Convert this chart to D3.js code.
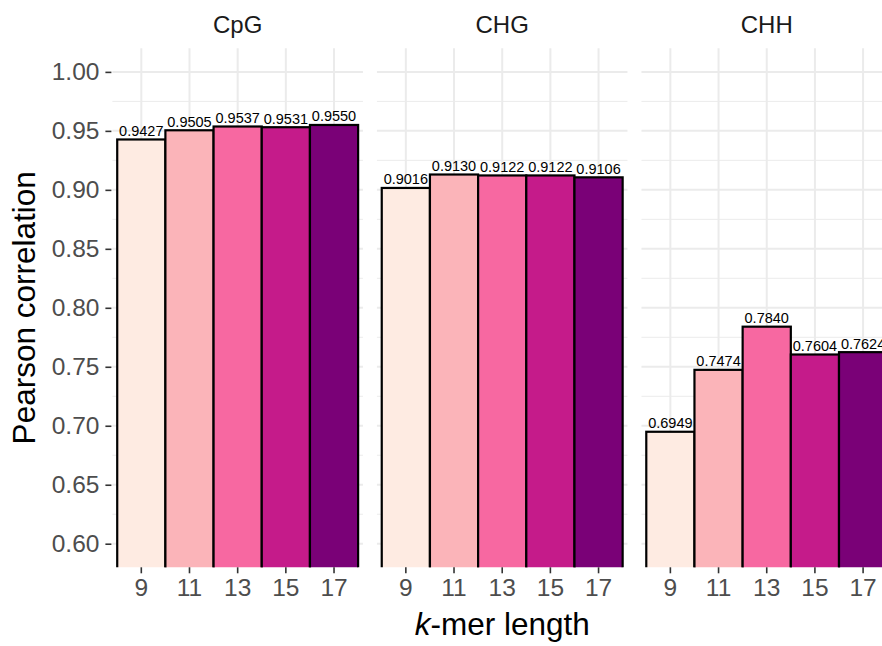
<!DOCTYPE html>
<html>
<head>
<meta charset="utf-8">
<script src="https://cdn.jsdelivr.net/npm/d3@7"></script>
<style>
  html, body { margin: 0; padding: 0; background: #fff; overflow: hidden; }
  svg { display: block; font-family: "Liberation Sans", Arial, sans-serif; }
</style>
</head>
<body>
<div id="chart"></div>
<script>
const contexts = ["CpG", "CHG", "CHH"];
const kmers = ["9", "11", "13", "15", "17"];
const cpgValues = [0.9427, 0.9505, 0.9537, 0.9531, 0.955];
const chgValues = [0.9016, 0.913, 0.9122, 0.9122, 0.9106];
const chhValues = [0.6949, 0.7474, 0.784, 0.7604, 0.7624];
const yTicks = [0.6, 0.65, 0.7, 0.75, 0.8, 0.85, 0.9, 0.95, 1.0];
const yMinor = [0.625, 0.675, 0.725, 0.775, 0.825, 0.875, 0.925, 0.975];
const colors = ["#FEEBE2", "#FBB4B9", "#F768A1", "#C51B8A", "#7A0177"];

const seriesValues = { CpG: cpgValues, CHG: chgValues, CHH: chhValues };

const width = 882, height = 646;
const panel = { left: 112.4, right: 892, top: 48.3, bottom: 567.3 };

const svg = d3
  .select("#chart")
  .append("svg")
  .attr("width", width)
  .attr("height", height);

const facet = d3.scaleBand().domain(contexts).range([panel.left, panel.right]).paddingInner(0.0529).paddingOuter(0);
const x = d3.scaleBand().domain(kmers).range([0, facet.bandwidth()]).paddingInner(0).paddingOuter(0.1);
const y = d3.scaleLinear().domain([0.58, 1.02]).range([panel.bottom, panel.top]);

// y axis ticks + labels
const yAxis = svg
  .append("g")
  .attr("transform", `translate(${panel.left - 1}, 0)`)
  .call(d3.axisLeft(y).tickValues(yTicks).tickSize(6).tickPadding(6).tickFormat(d3.format(".2f")));
yAxis.select(".domain").remove();
yAxis.selectAll(".tick line").attr("stroke", "#333333").attr("stroke-width", 1.6);
yAxis.selectAll(".tick text")
  .attr("fill", "#4D4D4D")
  .style("font-size", "24.5px")
  .style("font-family", "'Liberation Sans', Arial, sans-serif");

contexts.forEach((ctx, ci) => {
  const g = svg.append("g").attr("transform", `translate(${facet(ctx)}, 0)`);
  const pw = facet.bandwidth();

  g.append("clipPath")
    .attr("id", "clip" + ci)
    .append("rect")
    .attr("x", 0)
    .attr("y", panel.top)
    .attr("width", pw)
    .attr("height", panel.bottom - panel.top);

  // grid
  g.selectAll(".minor")
    .data(yMinor)
    .join("line")
    .attr("x1", 0).attr("x2", pw)
    .attr("y1", (d) => y(d)).attr("y2", (d) => y(d))
    .attr("stroke", "#EBEBEB").attr("stroke-width", 1);
  g.selectAll(".major")
    .data(yTicks)
    .join("line")
    .attr("x1", 0).attr("x2", pw)
    .attr("y1", (d) => y(d)).attr("y2", (d) => y(d))
    .attr("stroke", "#EBEBEB").attr("stroke-width", 2);
  g.selectAll(".vgrid")
    .data(kmers)
    .join("line")
    .attr("x1", (d) => x(d) + x.bandwidth() / 2).attr("x2", (d) => x(d) + x.bandwidth() / 2)
    .attr("y1", panel.top).attr("y2", panel.bottom)
    .attr("stroke", "#EBEBEB").attr("stroke-width", 2);

  const data = kmers.map((k, i) => ({ k, value: seriesValues[ctx][i], color: colors[i] }));

  // bars
  g.append("g")
    .attr("clip-path", `url(#clip${ci})`)
    .selectAll("rect")
    .data(data)
    .join("rect")
    .attr("x", (d) => x(d.k))
    .attr("y", (d) => y(d.value))
    .attr("width", x.bandwidth())
    .attr("height", (d) => y(0.5) - y(d.value))
    .attr("fill", (d) => d.color)
    .attr("stroke", "black")
    .attr("stroke-width", 2.2);

  // value labels
  g.selectAll(".lab")
    .data(data)
    .join("text")
    .attr("x", (d) => x(d.k) + x.bandwidth() / 2)
    .attr("y", (d) => y(d.value) - 3.5)
    .attr("text-anchor", "middle")
    .style("font-size", "14.5px")
    .attr("fill", "black")
    .text((d) => d.value.toFixed(4));

  // x axis ticks
  const xAxis = g
    .append("g")
    .attr("transform", `translate(0, ${panel.bottom})`)
    .call(d3.axisBottom(x).tickSize(6).tickPadding(5));
  xAxis.select(".domain").remove();
  xAxis.selectAll(".tick line").attr("stroke", "#333333").attr("stroke-width", 1.6);
  xAxis.selectAll(".tick text")
    .attr("fill", "#4D4D4D")
    .style("font-size", "24.5px")
    .style("font-family", "'Liberation Sans', Arial, sans-serif");

  // strip title
  g.append("text")
    .attr("x", pw / 2)
    .attr("y", 33)
    .attr("text-anchor", "middle")
    .attr("fill", "#1A1A1A")
    .style("font-size", "24px")
    .text(ctx);
});

// axis titles
svg
  .append("text")
  .attr("transform", `translate(35, ${(panel.top + panel.bottom) / 2}) rotate(-90)`)
  .attr("text-anchor", "middle")
  .style("font-size", "31.5px")
  .attr("fill", "black")
  .text("Pearson correlation");

const xt = svg
  .append("text")
  .attr("x", (panel.left + panel.right) / 2)
  .attr("y", 635)
  .attr("text-anchor", "middle")
  .style("font-size", "31.5px")
  .attr("fill", "black");
xt.append("tspan").style("font-style", "italic").text("k");
xt.append("tspan").text("-mer length");
</script>
</body>
</html>
